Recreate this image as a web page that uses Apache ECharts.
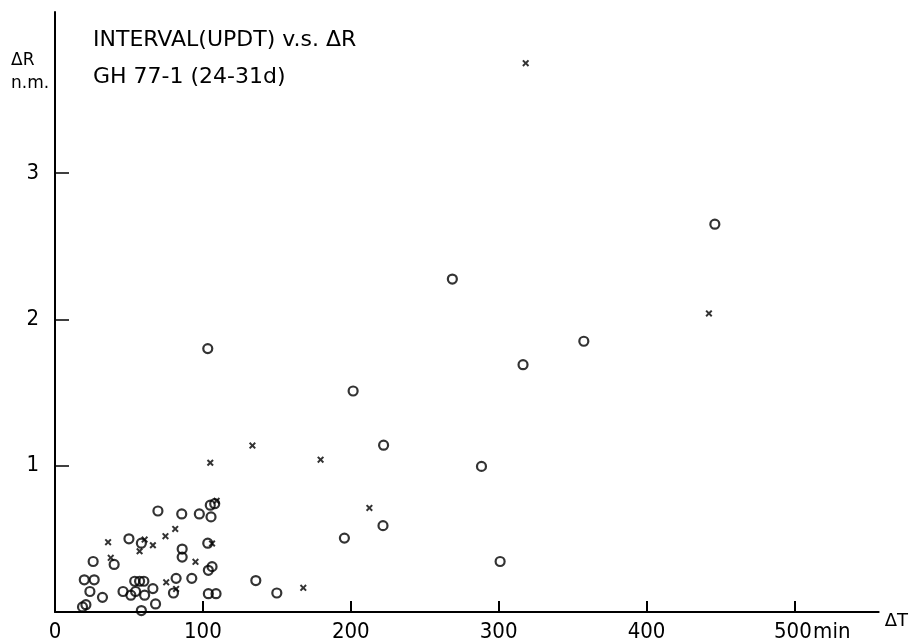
<!DOCTYPE html>
<html>
<head>
<meta charset="utf-8">
<script src="https://cdn.jsdelivr.net/npm/echarts@6/dist/echarts.min.js"></script>
<style>
  html, body { margin: 0; padding: 0; background: #fff; }
  #chart { width: 911px; height: 643px; }
</style>
</head>
<body>
<div id="chart"></div>
<script>
// circles: dT (min) and dR (n.m.)
let circleT = [69.6, 85.7, 97.6, 105.5, 105, 108, 50, 58.4, 25.8, 40, 86, 86, 103.3, 106.2, 103.7,
  19.8, 26.5, 23.6, 32.1, 18.6, 20.9, 53.9, 57.2, 60.1, 46, 51.3, 54.5, 60.6, 66.2, 68, 58.4,
  81.9, 92.5, 80.1, 103.7, 108.9, 103.3, 316.5, 201.6, 222.2, 288.4, 221.8, 195.7, 301, 135.8,
  150, 446.2, 268.7, 357.6]
let circleR = [0.69, 0.67, 0.67, 0.65, 0.73, 0.74, 0.50, 0.47, 0.345, 0.325, 0.43, 0.375, 0.47, 0.31, 0.285,
  0.22, 0.22, 0.14, 0.10, 0.035, 0.05, 0.21, 0.21, 0.21, 0.14, 0.115, 0.14, 0.115, 0.16, 0.055, 0.01,
  0.23, 0.23, 0.13, 0.125, 0.125, 1.80, 1.69, 1.51, 1.14, 0.995, 0.59, 0.505, 0.345, 0.215,
  0.13, 2.65, 2.275, 1.85]
// crosses
let crossT = [105, 35.9, 37.7, 57.2, 60.6, 66.2, 74.7, 81.3, 95, 106.2, 109.3, 75.2, 81.9,
  133.5, 179.6, 167.9, 212.6, 318.3, 442.2]
let crossR = [1.02, 0.477, 0.37, 0.415, 0.495, 0.456, 0.518, 0.568, 0.343, 0.468, 0.76, 0.203, 0.158,
  1.137, 1.041, 0.165, 0.711, 3.75, 2.04]

let xTicks = [100, 200, 300, 400, 500]
let xLabels = [0, 100, 200, 300, 400, 500]
let yTicks = [1, 2, 3]

let font = "'DejaVu Sans', sans-serif"
let numFont = "'Liberation Sans Narrow', 'DejaVu Sans Condensed', 'Liberation Sans', sans-serif"
let crossPath = 'path://M0,2 L2,0 L5,3 L8,0 L10,2 L7,5 L10,8 L8,10 L5,7 L2,10 L0,8 L3,5 Z'

let mychart = echarts.init(document.getElementById('chart'))
let options = {
    animation: false,
    backgroundColor: '#fff',
    title: [
        { text: 'INTERVAL(UPDT) v.s. ΔR', left: 88, top: 24,
          textStyle: { fontFamily: font, fontSize: 22, fontWeight: 'normal', color: '#000' } },
        { text: 'GH 77-1 (24-31d)', left: 88, top: 61,
          textStyle: { fontFamily: font, fontSize: 22, fontWeight: 'normal', color: '#000' } },
        { text: 'ΔR\nn.m.', left: 6, top: 44,
          textStyle: { fontFamily: font, fontSize: 17, fontWeight: 'normal', color: '#000', lineHeight: 23 } }
    ],
    grid: { left: 55, right: 29, top: 12, bottom: 30.5 },
    xAxis: {
        type: 'value',
        min: 0,
        max: 557,
        name: 'ΔT',
        nameLocation: 'end',
        nameGap: 6,
        nameTextStyle: { fontFamily: font, fontSize: 18, color: '#000', verticalAlign: 'top', padding: [0, 0, 0, 0] },
        splitLine: { show: false },
        axisLine: { lineStyle: { color: '#000', width: 2 } },
        axisTick: { inside: true, length: 11, customValues: xTicks, lineStyle: { color: '#000', width: 2 } },
        axisLabel: {
            customValues: xLabels,
            margin: 9,
            fontFamily: numFont,
            fontSize: 22,
            color: '#000',
            formatter: v => v === 500 ? '{pad|}500{u|min}' : String(v),
            rich: {
                pad: { width: 34 },
                u: { fontFamily: numFont, fontSize: 22, color: '#000', width: 34, padding: [0, 0, 0, 3] }
            }
        }
    },
    yAxis: {
        type: 'value',
        min: 0,
        max: 4.1,
        splitLine: { show: false },
        axisLine: { lineStyle: { color: '#000', width: 2 } },
        axisTick: { inside: true, length: 14, customValues: yTicks, lineStyle: { color: '#000', width: 1.5 } },
        axisLabel: { customValues: yTicks, margin: 16, fontFamily: numFont, fontSize: 22, color: '#000' }
    },
    series: [
        {
            type: 'scatter',
            data: circleT.map((t, i) => [t, circleR[i]]),
            symbol: 'circle',
            symbolSize: 9,
            itemStyle: { color: 'rgba(0,0,0,0)', borderColor: '#000', borderWidth: 2.2 }
        },
        {
            type: 'scatter',
            data: crossT.map((t, i) => [t, crossR[i]]),
            symbol: crossPath,
            symbolSize: 7,
            itemStyle: { color: '#000' }
        }
    ]
}
mychart.setOption(options)
</script>
</body>
</html>
